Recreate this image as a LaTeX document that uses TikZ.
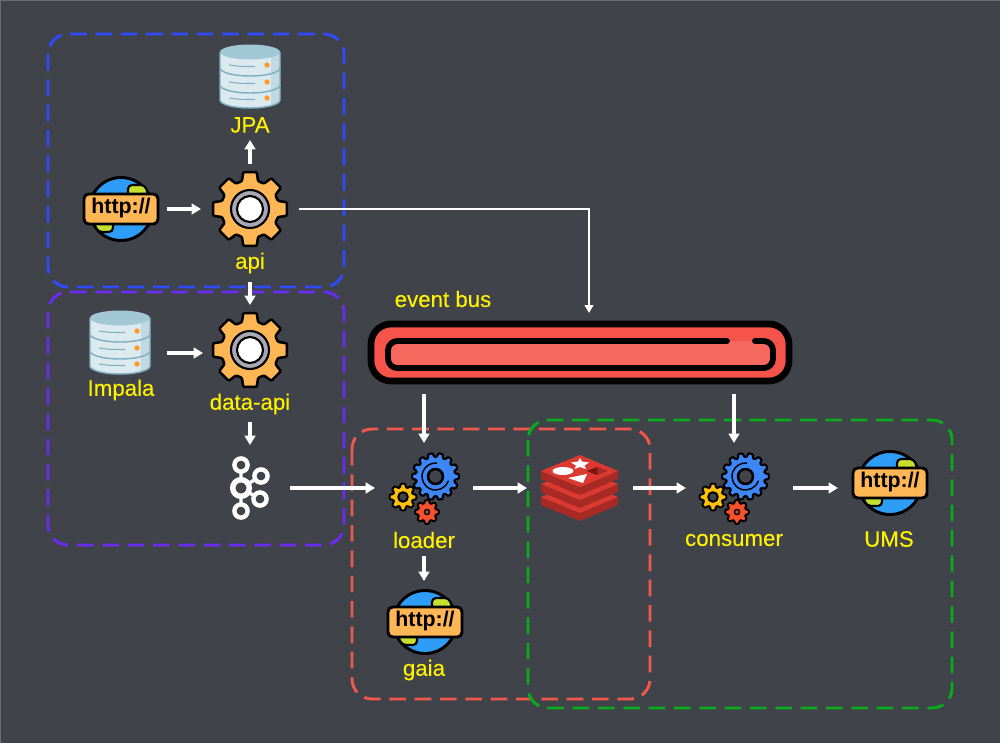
\documentclass[tikz,border=0pt]{standalone}
\usepackage{fontspec}
\setmainfont{Liberation Sans}
\newfontfamily\lblfont[FakeBold=0.12]{Liberation Sans}
\newfontfamily\httpfont{Liberation Sans}
\usetikzlibrary{arrows.meta,positioning,calc}
\definecolor{bgc}{HTML}{40434A}
\definecolor{edgec}{HTML}{6A6C71}
\definecolor{bluegrp}{HTML}{2F4BFF}
\definecolor{purplegrp}{HTML}{6A2CF2}
\definecolor{redgrp}{HTML}{F0584C}
\definecolor{greengrp}{HTML}{0BAA1C}
\definecolor{gearorange}{HTML}{FFB655}
\definecolor{gearblue}{HTML}{3D86F6}
\definecolor{gearyellow}{HTML}{FFC107}
\definecolor{gearred}{HTML}{F4512C}
\definecolor{ringgrey}{HTML}{A9A9B6}
\definecolor{globeblue}{HTML}{2E9DF7}
\definecolor{globegreen}{HTML}{C6E02F}
\definecolor{dbbody}{HTML}{DCE9EF}
\definecolor{dbside}{HTML}{C1D9E3}
\definecolor{dbtop}{HTML}{A2C8D6}
\definecolor{dbline}{HTML}{7FB0C0}
\definecolor{dbdot}{HTML}{FF9A26}
\definecolor{busouter}{HTML}{F6534A}
\definecolor{businner}{HTML}{F7695F}
\definecolor{redistop}{HTML}{DC3A30}
\definecolor{redisside}{HTML}{A82A25}
\definecolor{redisdark}{HTML}{7A1512}
\definecolor{redismid}{HTML}{A62A24}
\tikzset{
  x=0.75pt,y=-0.75pt,
  grp/.style={draw=#1,line width=2.2pt,rounded corners=15pt,dash pattern=on 12.5pt off 6.5pt},
  arrowline/.style={draw=white,line width=2.3pt,-{Triangle[length=7pt,width=8pt]}},
  box/.style={inner sep=0pt,outer sep=0pt,minimum width=#1*0.75pt},
  lbl/.style={text=yellow,font=\lblfont\fontsize{16.7}{19}\selectfont,inner sep=0pt,outer sep=0pt,anchor=center},
  ink/.style={draw=black,line join=round}
}
% gear: x y Ro Ri teeth fill linewidth
\newcommand{\gearicon}[7]{%
  \begin{scope}[shift={(#1,#2)}]
    \pgfmathsetmacro{\st}{360/#5}
    \pgfmathtruncatemacro{\lastn}{#5-1}
    \filldraw[ink,fill=#6,line width=#7,rounded corners=0.8pt]
      ({-.36*\st}:#4)
      \foreach \i in {0,...,\lastn}{
        -- ({\i*\st-.36*\st}:#4) -- ({\i*\st-.23*\st}:#3) -- ({\i*\st+.23*\st}:#3) -- ({\i*\st+.36*\st}:#4)
      } -- cycle;
  \end{scope}}
% database: x y(center)
\newcommand{\dbicon}[2]{%
  \begin{scope}[shift={(#1,#2)}]
    \fill[dbbody] (-30,-24) -- (-30,24) arc[start angle=180,end angle=0,x radius=30,y radius=8] -- (30,-24) -- cycle;
    \fill[dbside] (21,-20) -- (21,30) to[bend right=8] (30,24) -- (30,-24) -- cycle;
    \fill[dbtop] (0,-24) ellipse[x radius=30,y radius=7.5];
    \draw[dbline,line width=1.1pt] (-30,-24) -- (-30,24) arc[start angle=180,end angle=0,x radius=30,y radius=8] -- (30,-24);
    \draw[dbline,line width=1.1pt] (-30,-8) arc[start angle=180,end angle=0,x radius=30,y radius=8];
    \draw[dbline,line width=1.1pt] (-30,9) arc[start angle=180,end angle=0,x radius=30,y radius=8];
    \foreach \yy in {-11,6,22}{
      \fill[dbdot] (17,\yy) circle[radius=2.7];
      \draw[dbline,line width=.8pt] (-21,\yy) .. controls (-10,\yy+1.5) .. (5,\yy+1.5);
    }
  \end{scope}}
% globe: x y(center of banner)
\newcommand{\globeicon}[2]{%
  \begin{scope}[shift={(#1,#2)}]
    \filldraw[ink,fill=globeblue,line width=2.2pt] (1,0) circle[radius=31.5];
    \filldraw[ink,fill=globegreen,line width=1.6pt,rounded corners=3pt] (8,-24) -- (25,-24) -- (29,-12) -- (8,-12) -- cycle;
    \filldraw[ink,fill=globegreen,line width=1.6pt,rounded corners=3pt] (-27,12) -- (-7,12) -- (-7,23) -- (-22,23) -- cycle;
    \filldraw[ink,fill=gearorange,line width=2.2pt,rounded corners=3.5pt] (-36,-15) rectangle (38,15);
    \node[inner sep=0pt,text=black,font=\httpfont\bfseries\fontsize{16}{17}\selectfont] at (1,-1) {http://};
  \end{scope}}
% big gear centre
\newcommand{\hubicon}[2]{%
  \gearicon{#1}{#2}{37.5}{29}{8}{gearorange}{1.9pt}
  \filldraw[ink,fill=ringgrey,line width=1.6pt] (#1,#2) circle[radius=19];
  \filldraw[ink,fill=white,line width=1.6pt] (#1,#2) circle[radius=13];
}
% three gears
\newcommand{\gearsicon}[2]{%
  \begin{scope}[shift={(#1,#2)}]
    \gearicon{11.5}{-11.5}{23.5}{19.5}{14}{gearblue}{1.6pt}
    \draw[black,line width=1.1pt,line cap=round] (11.5,-11.5) ++(20:13.5) arc[start angle=20,end angle=275,radius=13.5];
    \filldraw[ink,fill=bgc,line width=1.9pt] (11.5,-11.5) circle[radius=7.5];
    \gearicon{-21}{9}{13.5}{10}{8}{gearyellow}{1.5pt}
    \filldraw[ink,fill=bgc,line width=1.5pt] (-21,9) circle[radius=4.8];
    \gearicon{3}{24}{12}{9}{8}{gearred}{1.5pt}
    \filldraw[ink,fill=bgc!40!gearred,line width=1pt] (3,24) circle[radius=2.6];
  \end{scope}}
\begin{document}
\begin{tikzpicture}
\useasboundingbox (0,0) rectangle (1000,743);
\fill[bgc] (0,0) rectangle (1000,743);
\draw[edgec,line width=1pt] (1000,0.5) -- (0.5,0.5) -- (0.5,743);

% groups
\draw[grp=bluegrp] (48,34) rectangle (344,287);
\draw[grp=purplegrp] (48,292) rectangle (344,545);
\draw[grp=redgrp] (352,429) rectangle (650,699);
\draw[grp=greengrp] (528,420) rectangle (952,708);

% artwork
\dbicon{250}{76}
\dbicon{120}{342}
\globeicon{120}{209}
\hubicon{250}{209}
\hubicon{250}{350}
\gearsicon{424}{488}
\gearsicon{734}{488}
\globeicon{424}{622}
\globeicon{889}{483}

% kafka
\begin{scope}[draw=white,fill=white]
  \draw[line width=2.6pt] (241,465) -- (241,511) (241,488) -- (261,476) (241,488) -- (260,499);
  \filldraw[fill=bgc,line width=3.3pt] (241,465) circle[radius=6.6];
  \filldraw[fill=bgc,line width=3.3pt] (241,511) circle[radius=6.6];
  \filldraw[fill=bgc,line width=3.3pt] (261,476) circle[radius=6.6];
  \filldraw[fill=bgc,line width=3.3pt] (260,499) circle[radius=6.6];
  \filldraw[fill=bgc,line width=4.1pt] (241,488) circle[radius=8.3];
\end{scope}

% redis
\foreach \dy in {26,13,0}{
  \fill[redisside] (541,471+\dy) -- (580,487+\dy) -- (618,471+\dy) -- (618,479+\dy) -- (580,495+\dy) -- (541,479+\dy) -- cycle;
  \fill[redistop] (541,471+\dy) -- (580,455+\dy) -- (618,471+\dy) -- (580,487+\dy) -- cycle;
}
\fill[white] (563,471) ellipse[x radius=10.5,y radius=4];
\fill[white] (580,458) -- (582,461.5) -- (589,462.5) -- (584.5,465.5) -- (586,469) -- (580,467) -- (574.5,469) -- (576,465.5) -- (571,462.5) -- (578,461.5) -- cycle;
\fill[white] (568,478) -- (587,474) -- (583,483) -- cycle;
\fill[redismid] (587,471) -- (597,467) -- (608,471) -- (597,475) -- cycle;
\fill[redisdark] (597,467) -- (597,475) -- (587,471) -- cycle;

% event bus
\filldraw[draw=black,fill=busouter,line width=5pt,rounded corners=15pt] (371,324) rectangle (789,381);
\fill[businner,rounded corners=6pt] (388,341) rectangle (773,368);
\draw[black,line width=4.4pt,line cap=round,rounded corners=7pt]
  (727,341) -- (388,341) -- (388,368) -- (773,368) -- (773,341) -- (755,341);

% labels
\node[lbl] (jpa) at (250,125) {JPA};
\node[lbl,minimum height=38*0.75pt] (apilabel) at (250,263) {api};
\node[lbl,minimum height=30*0.75pt] (jpalabel) at (250,125) {};
\node[lbl] (impalalabel) at (121,390) {Impala};
\node[lbl,minimum height=36*0.75pt] (dataapilabel) at (250,404) {data-api};
\node[lbl] (eventbus) at (443,299) {event bus};
\node[lbl,minimum height=32*0.75pt] (loaderlabel) at (424,540) {loader};
\node[lbl] (gaialabel) at (424,670) {gaia};
\node[lbl] (consumerlabel) at (734,540) {consumer};
\node[lbl] (umslabel) at (889,539) {UMS};

% connector anchor boxes
\node[box=94,minimum height=66*0.75pt] (www) at (120,209) {};
\node[box=98,minimum height=90*0.75pt] (api) at (250,209) {};
\node[box=94,minimum height=66*0.75pt] (impala) at (120,353) {};
\node[box=94,minimum height=90*0.75pt] (dataapi) at (250,350) {};
\node[box=80,minimum height=86*0.75pt] (kafka) at (250,488) {};
\node[box=98,minimum height=90*0.75pt] (loader) at (424,488) {};
\node[box=94,minimum height=82*0.75pt] (gaia) at (424,622) {};
\node[box=106,minimum height=60*0.75pt] (redis) at (580,488) {};
\node[box=96,minimum height=90*0.75pt] (consumer) at (734,488) {};
\node[box=102,minimum height=60*0.75pt] (ums) at (889,488) {};
\node[box=430,minimum height=81*0.75pt] (bus) at (580,353.5) {};
\coordinate (busin) at (589,313);

% connectors
\draw[arrowline] (www.east) -- (api.west);
\draw[arrowline] (api.north) -- (jpalabel.south);
\draw[arrowline] (apilabel.south) -- (dataapi.north);
\draw[arrowline] (impala.east) -- (impala.east -| dataapi.west);
\draw[arrowline] (dataapilabel.south) -- (kafka.north -| dataapilabel.south);
\draw[arrowline] (kafka.east) -- (loader.west);
\draw[arrowline] (loader.east) -- (redis.west);
\draw[arrowline] (redis.east) -- (consumer.west);
\draw[arrowline,shorten <=8pt] (consumer.east) -- (ums.west);
\draw[arrowline] (loaderlabel.south) -- (gaia.north);
\draw[arrowline] (bus.south -| loader.north) -- (loader.north);
\draw[arrowline] (bus.south -| consumer.north) -- (consumer.north);
\draw[draw=white,line width=1.5pt,-{Triangle[length=6pt,width=6.5pt]}] (api.east) -| (busin);
\end{tikzpicture}
\end{document}
